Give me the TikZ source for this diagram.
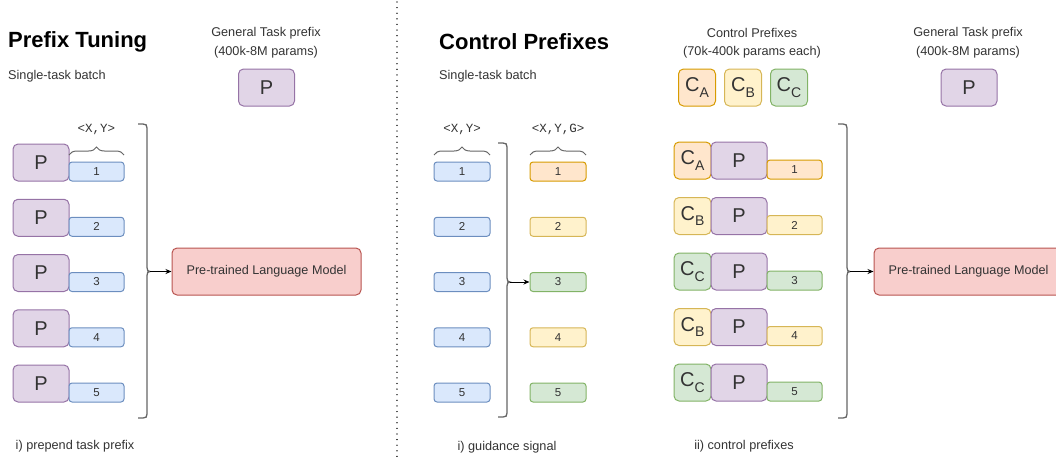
\documentclass[tikz,border=0pt]{standalone}
\usepackage{fontspec}
\setmainfont{Liberation Sans}
\newfontfamily\codefont{Liberation Mono}
\usetikzlibrary{arrows.meta,decorations.pathreplacing}

\definecolor{txtdark}{HTML}{333333}
\definecolor{purplefill}{HTML}{E1D5E7}
\definecolor{purpleline}{HTML}{9673A6}
\definecolor{bluefill}{HTML}{DAE8FC}
\definecolor{blueline}{HTML}{6C8EBF}
\definecolor{orangefill}{HTML}{FFE6CC}
\definecolor{orangeline}{HTML}{D79B00}
\definecolor{yellowfill}{HTML}{FFF2CC}
\definecolor{yellowline}{HTML}{D6B656}
\definecolor{greenfill}{HTML}{D5E8D4}
\definecolor{greenline}{HTML}{82B366}
\definecolor{redfill}{HTML}{F8CECC}
\definecolor{redline}{HTML}{B85450}
\definecolor{bracketgray}{HTML}{666666}

% control prefix letter with its subscript
\newcommand\csub[1]{C\raisebox{-0.28em}{\fontsize{14}{14}\selectfont #1}}

% curly side bracket: #1 left x, #2 top y, #3 tip y, #4 bottom y, #5 tip coordinate
\newcommand\sidebracket[5]{%
  \draw[bracketline] (#1,#2) -- ({#1+5},#2)
    .. controls ({#1+8},#2) and ({#1+9},{#2+1}) .. ({#1+9},{#2+4})
    -- ({#1+9},{#3-4})
    .. controls ({#1+9},{#3-1}) and ({#1+10},#3) .. ({#1+12},#3) coordinate (#5)
    .. controls ({#1+10},#3) and ({#1+9},{#3+1}) .. ({#1+9},{#3+4})
    -- ({#1+9},{#4-4})
    .. controls ({#1+9},{#4-1}) and ({#1+8},#4) .. ({#1+5},#4) -- (#1,#4);}

\begin{document}
\begin{tikzpicture}[x=1pt,y=-1pt,
  box/.style={rounded corners=5pt, line width=1pt, inner sep=0pt, text=txtdark},
  pbox/.style={box, draw=purpleline, fill=purplefill, minimum width=56pt,
    minimum height=37pt, font=\fontsize{20}{20}\selectfont},
  cbox/.style={box, minimum width=37pt, minimum height=37pt,
    font=\fontsize{20}{20}\selectfont},
  cA/.style={draw=orangeline, fill=orangefill},
  cB/.style={draw=yellowline, fill=yellowfill},
  cC/.style={draw=greenline, fill=greenfill},
  bluebar/.style={draw=blueline, fill=bluefill},
  bar/.style={rounded corners=3pt, line width=1pt, inner sep=0pt,
    minimum width=55pt, minimum height=19pt,
    font=\fontsize{11.5}{11.5}\selectfont, text=txtdark},
  lm/.style={box, draw=redline, fill=redfill, minimum width=189pt,
    minimum height=47pt, font=\fontsize{12.6}{12.6}\selectfont},
  label/.style={font=\fontsize{12.7}{15}\selectfont, text=txtdark, inner sep=0pt},
  title/.style={font=\fontsize{22}{22}\selectfont\bfseries, inner sep=0pt, anchor=west},
  code/.style={font=\codefont\fontsize{12.5}{12.5}\selectfont, text=txtdark, inner sep=0pt},
  bracebar/.style={decorate, decoration={brace, amplitude=8pt}, draw=bracketgray, line width=1pt},
  bracketline/.style={draw=bracketgray, line width=1.3pt},
  conn/.style={-{Stealth[length=6pt,width=5pt]}, line width=1pt, black},
  sepline/.style={line width=1.4pt, dash pattern=on 0.01pt off 5.6pt, line cap=round, draw=black!80}]

\useasboundingbox (0,0) rectangle (1056,459);

% separator between the two panels
\draw[sepline] (397,2) -- (397,459);

% ---------------- Prefix Tuning ----------------
\node[title] (t1) at (8,42) {Prefix Tuning};
\node[label, anchor=west] (s1) at (8,76) {Single-task batch};
\node[label] (g1a) at (266,33) {General Task prefix};
\node[label] (g1b) at (266,52) {(400k-8M params)};
\node[pbox] (gp1) at (266.5,87.5) {P};

\foreach \i/\t in {1/144,2/199.25,3/254.5,4/309.75,5/365}{
  \node[pbox] (lp\i) at (41,\t+18.5) {P};
  \node[bar, bluebar] (lb\i) at (96.5,\t+27.5) {\i};
}
\draw[bracebar] (69,155) -- (124,155);
\node[code] (lxy) at (96.5,129) {<X,Y>};

\sidebracket{138}{124}{271.5}{418}{lbr}
\node[lm] (lm1) at (266.5,271.5) {Pre-trained Language Model};
\draw[conn] (lbr) -- (lm1.west);

\node[label] (c1) at (75,446) {i) prepend task prefix};

% ---------------- Control Prefixes ----------------
\node[title] (t2) at (439,42) {Control Prefixes};
\node[label, anchor=west] (s2) at (439,76) {Single-task batch};

% guidance signal
\foreach \i/\t/\s in {1/144/cA,2/199.25/cB,3/254.5/cC,4/309.75/cB,5/365/cC}{
  \node[bar, bluebar, minimum width=56pt] (mb\i) at (462,\t+27.5) {\i};
  \node[bar, \s, minimum width=56pt] (gm\i) at (558,\t+27.5) {\i};
}
\draw[bracebar] (434,155) -- (490,155);
\node[code] (mxy) at (462,129) {<X,Y>};
\draw[bracebar] (530,155) -- (586,155);
\node[code] (mxyg) at (558,129) {<X,Y,G>};

\sidebracket{498}{143}{282}{417}{mbr}
\draw[conn] (mbr) -- (gm3.west);

\node[label] (c2) at (507,447) {i) guidance signal};

% control prefixes
\node[label] (cp1) at (752,33) {Control Prefixes};
\node[label] (cp2) at (752,52) {(70k-400k params each)};
\node[cbox, cA] (ca) at (697,87.5) {\csub{A}};
\node[cbox, cB] (cb) at (743,87.5) {\csub{B}};
\node[cbox, cC] (cc) at (789,87.5) {\csub{C}};

\node[label] (g2a) at (968,33) {General Task prefix};
\node[label] (g2b) at (968,52) {(400k-8M params)};
\node[pbox] (gp2) at (969,87.5) {P};

\foreach \i/\t/\s/\l in {1/142/cA/A,2/197.5/cB/B,3/253/cC/C,4/308.5/cB/B,5/364/cC/C}{
  \node[cbox, \s] (rc\i) at (692.5,\t+18.5) {\csub{\l}};
  \node[pbox] (rp\i) at (739,\t+18.5) {P};
  \node[bar, \s] (rb\i) at (794.5,\t+27.5) {\i};
}

\sidebracket{838}{124}{271.5}{418}{rbr}
\node[lm] (lm2) at (968.5,271.5) {Pre-trained Language Model};
\draw[conn] (rbr) -- (lm2.west);

\node[label] (c3) at (744,446) {ii) control prefixes};
\end{tikzpicture}
\end{document}
